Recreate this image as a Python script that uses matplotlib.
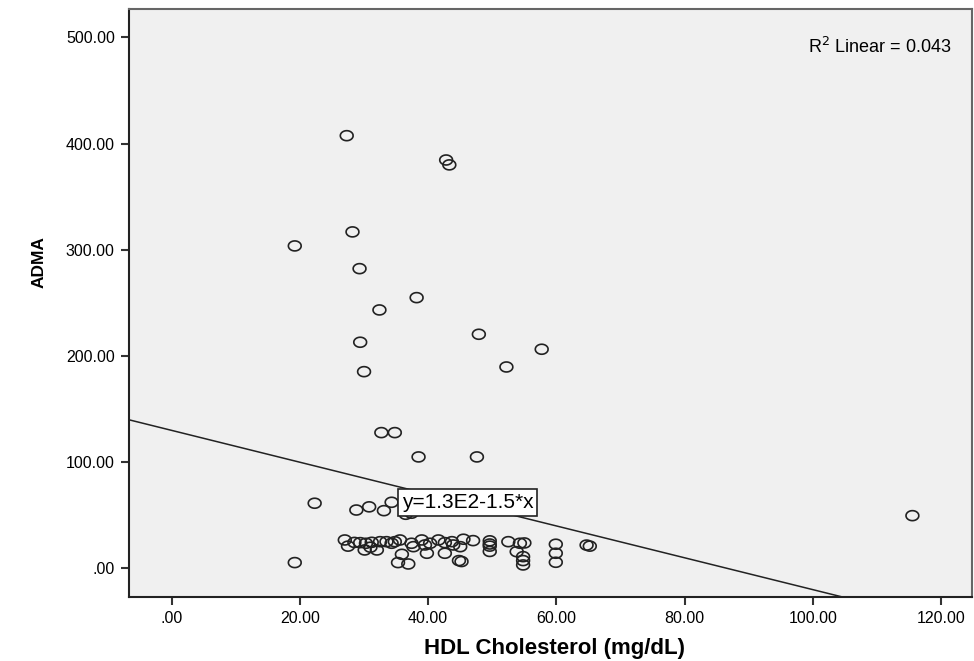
import numpy as np
import matplotlib
matplotlib.use("Agg")
import matplotlib.pyplot as plt
from matplotlib.path import Path

plt.rcParams['font.family'] = ['Liberation Sans', 'DejaVu Sans']

# dados (HDL x ADMA)
hdl = [27.3, 42.8, 43.3, 28.2, 19.2, 29.3, 38.2, 32.4, 29.4, 47.9, 57.7, 52.2, 30.0,
       32.7, 34.8, 38.5, 47.6,
       22.3, 28.8, 30.8, 33.1, 34.3, 36.5, 37.4, 115.5,
       19.2, 27.0, 27.5, 28.5, 29.4, 30.3, 30.1, 31.2, 31.0, 32.0, 32.5, 33.5, 34.3, 34.8,
       35.6, 37.4, 37.7, 39.0, 39.5, 39.8, 35.9, 35.3, 36.9,
       40.3, 41.6, 42.6, 43.7, 43.9, 45.5, 47.0, 45.0, 42.6, 44.8, 45.2,
       49.6, 49.6, 49.6, 49.6, 52.5, 54.3, 55.0, 53.8, 54.8, 54.8, 54.8,
       59.9, 59.9, 59.9, 64.7, 65.2]
adma = [407.5, 384.6, 380.0, 316.9, 303.7, 282.3, 255.0, 243.4, 213.0, 220.5, 206.4, 189.7, 185.3,
        127.9, 127.9, 105.0, 105.0,
        61.4, 55.0, 58.0, 54.4, 62.3, 51.0, 52.0, 49.7,
        5.5, 26.8, 21.0, 24.5, 24.3, 23.7, 17.4, 24.6, 20.0, 17.4, 25.2, 25.2, 23.7, 25.2,
        26.8, 23.7, 20.5, 26.8, 22.1, 14.3, 13.3, 5.5, 4.2,
        23.7, 26.8, 24.3, 25.2, 22.1, 27.5, 26.2, 20.5, 14.3, 7.4, 6.5,
        26.0, 23.0, 21.0, 16.0, 25.2, 23.7, 24.0, 15.8, 11.1, 7.4, 3.3,
        22.8, 14.3, 5.8, 22.0, 21.0]

# reta de ajuste (do rotulo y=1.3E2-1.5*x)
intercepto = 130.0
inclinacao = -1.5
r2 = 0.043

xticks = [0, 20, 40, 60, 80, 100, 120]
yticks = [0, 100, 200, 300, 400, 500]


def rotulo(v):
    s = f"{v:.2f}"
    if s.startswith("0"):
        s = s[1:]
    return s


# marcador eliptico (o original e um pouco achatado)
t = np.linspace(0, 2 * np.pi, 60)
elipse = Path(np.column_stack([np.cos(t), 0.78 * np.sin(t)]))

fig = plt.figure(figsize=(9.74, 6.61), dpi=100)
fig.patch.set_facecolor('white')
ax = fig.add_axes([0.1321, 0.0973, 0.8659, 0.8891])
ax.set_facecolor('#f0f0f0')

xlim = (-6.7, 124.8)
ylim = (-26.6, 526.8)

# linha de regressao
xs = np.array(xlim)
ax.plot(xs, intercepto + inclinacao * xs, color='#222222', lw=1.1, zorder=2)

# pontos
ax.scatter(hdl, adma, s=85, marker=elipse, facecolors='none', edgecolors='#222222',
           linewidths=1.2, zorder=3)

ax.set_xlim(*xlim)
ax.set_ylim(*ylim)
ax.set_xticks(xticks)
ax.set_xticklabels([rotulo(v) for v in xticks], fontsize=11.5)
ax.set_yticks(yticks)
ax.set_yticklabels([rotulo(v) for v in yticks], fontsize=11.5)
ax.tick_params(direction='out', length=6, width=1.5, color='#333333', pad=4)

for lado in ['left', 'bottom']:
    ax.spines[lado].set_color('#222222')
    ax.spines[lado].set_linewidth(1.5)
for lado in ['top', 'right']:
    ax.spines[lado].set_color('#666666')
    ax.spines[lado].set_linewidth(1.5)

ax.set_xlabel('HDL Cholesterol (mg/dL)', fontsize=16, fontweight='bold')
ax.xaxis.set_label_coords(0.505, -0.071)
ax.set_ylabel('ADMA', fontsize=12.5, fontweight='bold',
              family=['Liberation Sans Narrow', 'Liberation Sans'])
ax.yaxis.set_label_coords(-0.097, 0.57)

ax.text(0.976, 0.935, r'R$^2$ Linear = 0.043', transform=ax.transAxes,
        ha='right', va='center', fontsize=13)

ax.text(35.9, 62.0, 'y=1.3E2-1.5*x', ha='left', va='center', fontsize=15, zorder=4,
        bbox=dict(boxstyle='square,pad=0.18', facecolor='white', edgecolor='#222222', linewidth=1.2))

fig.savefig('out.png', dpi=100)
